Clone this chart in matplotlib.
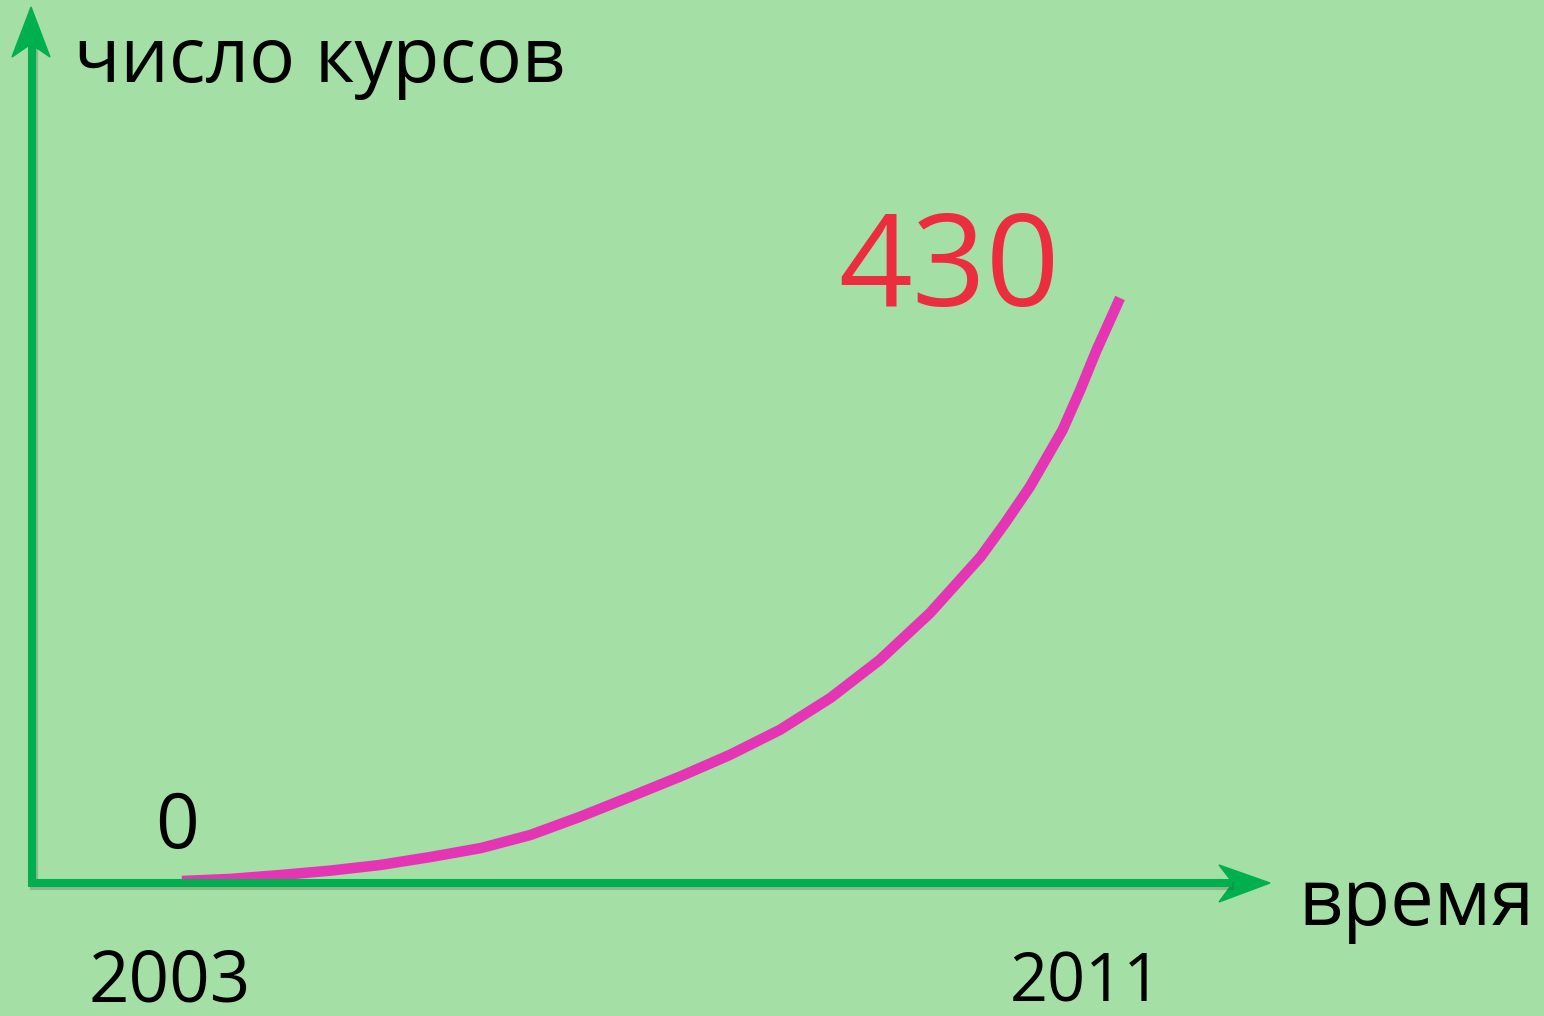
import matplotlib.pyplot as plt
from matplotlib.lines import Line2D
from matplotlib.patches import Polygon
import matplotlib.patheffects as pe

# growth in number of courses, 2003 -> 2011
years = [2003.00, 2003.41, 2003.84, 2004.26, 2004.69, 2005.12, 2005.55,
         2005.97, 2006.39, 2006.82, 2007.25, 2007.67, 2008.10, 2008.53,
         2008.95, 2009.38, 2009.81, 2010.02, 2010.23, 2010.51, 2010.66,
         2010.80, 2011.00]
courses = [0, 1.5, 4.4, 7.6, 11.8, 17.7, 24.3,
           33.9, 47.2, 62.0, 77.1, 92.9, 111.5, 135.0,
           163.0, 197.7, 239.0, 264.0, 290.6, 332.6, 362.0,
           391.6, 430]

y_label = "число курсов"
x_label = "время"
start_year, end_year = "2003", "2011"
start_val, end_val = "0", "430"

bg = "#a4dfa6"
green = "#00b04f"
magenta = "#e535b5"
red = "#ec2d40"

W, H = 1544, 1016
plt.rcParams['font.family'] = ['Open Sans', 'DejaVu Sans']

fig = plt.figure(figsize=(W / 100, H / 100), dpi=100)
fig.patch.set_facecolor(bg)
ax = fig.add_axes([0, 0, 1, 1])
ax.set_facecolor(bg)
ax.axis('off')
# 2003 sits at x=182px, 2011 at 1120px; 0 at y=881px, 430 at 298px
ax.set_xlim(2001.448, 2014.616)
ax.set_ylim(-99.57, 649.8)


def px(x, y):
    return x / W, 1 - y / H


shadow = [pe.SimpleLineShadow(offset=(1.5, -2.5), alpha=0.25, shadow_color='#404040'), pe.Normal()]

# axes arrows
x0, y0 = px(32, 883)
x1, y1 = px(32, 45)
fig.add_artist(Line2D([x0, x1], [y0, y1], lw=5.8, color=green, transform=fig.transFigure,
                      solid_capstyle='butt', path_effects=shadow))
x2, y2 = px(1232, 883)
fig.add_artist(Line2D([x0 - 4 / W, x2], [y0, y2], lw=5.8, color=green, transform=fig.transFigure,
                      solid_capstyle='butt', path_effects=shadow))
fig.add_artist(Polygon([px(31, 7), px(12, 57), px(31, 44), px(50, 57)], closed=True,
                       color=green, transform=fig.transFigure))
fig.add_artist(Polygon([px(1270, 883), px(1219, 865), px(1233, 883), px(1219, 902)], closed=True,
                       color=green, transform=fig.transFigure))

# curve
ax.plot(years, courses, color=magenta, lw=7.6, solid_capstyle='butt', solid_joinstyle='round')

# labels
fig.text(*px(74, 82), y_label, fontsize=55, color='black', ha='left', va='baseline')
fig.text(*px(1298, 925), x_label, fontsize=56, color='black', ha='left', va='baseline')
fig.text(*px(838, 306), end_val, fontsize=93, color=red, ha='left', va='baseline')
fig.text(*px(155, 848), start_val, fontsize=55, color='black', ha='left', va='baseline')
fig.text(*px(88, 1002), start_year, fontsize=51, color='black', ha='left', va='baseline')
fig.text(*px(1010, 1002), end_year, fontsize=48, color='black', ha='left', va='baseline')

fig.savefig('out.png', dpi=100, facecolor=bg)
